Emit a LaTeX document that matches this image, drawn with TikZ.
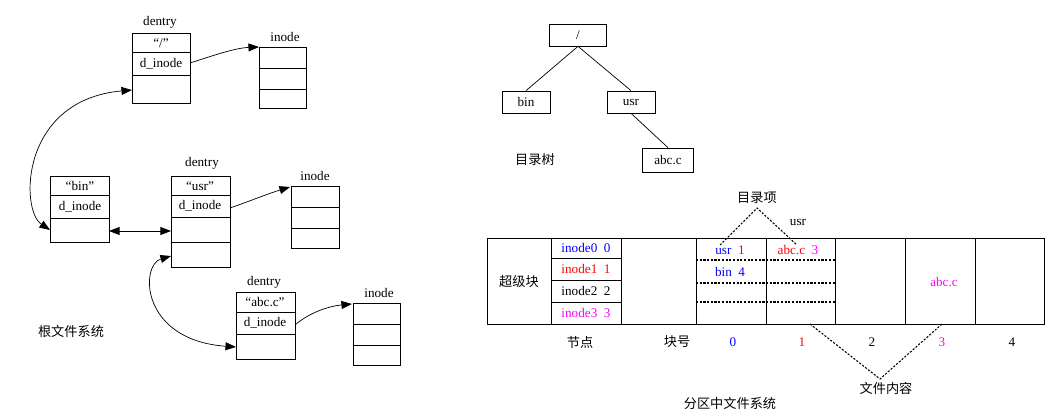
\documentclass[tikz,border=0pt]{standalone}
\usepackage{fontspec}
\setmainfont{Liberation Serif}
\newfontfamily\cjk{Noto Sans CJK SC}
\usetikzlibrary{arrows.meta}
\definecolor{mag}{RGB}{255,0,255}
\begin{document}
\begin{tikzpicture}[x=0.02cm,y=-0.02cm,font=\fontsize{7.5}{9}\selectfont,
  lbl/.style={inner sep=0pt,anchor=center},
  ptr/.style={-{Triangle[length=6pt,width=4.5pt]},thin},
  dptr/.style={{Triangle[length=6pt,width=4.5pt]}-{Triangle[length=6pt,width=4.5pt]},thin},
  dot/.style={dash pattern=on 1.2pt off 0.9pt,semithick}]
\useasboundingbox (0,0) rectangle (1060,419);
\newcommand\dbox[6]{%
  \draw[thin] (#2,#3) rectangle (#4,#5);
  \foreach \r in {#6} \draw[thin] (#2,\r) -- (#4,\r);
  \coordinate (#1) at (#2,#3);}
\dbox{d1}{132}{33}{190}{103}{52,75}
\node[lbl] (d1n) at (161,43) {“/”};
\node[lbl] (d1i) at (161,64) {d\_inode};
\node[lbl] (d1l) at (160,22) {dentry};
\dbox{i1}{259}{47}{306}{108}{68,89}
\node[lbl] (i1l) at (285,37) {inode};
\dbox{b}{50}{176}{109}{242}{195,218}
\node[lbl] (bn) at (80,186) {“bin”};
\node[lbl] (bi) at (80,207) {d\_inode};
\dbox{u}{171}{176}{230}{267}{195,217,242}
\node[lbl] (un) at (200,186) {“usr”};
\node[lbl] (ui) at (200,206) {d\_inode};
\node[lbl] (ul) at (202,163) {dentry};
\dbox{i2}{291}{186}{339}{248}{207,228}
\node[lbl] (i2l) at (315,176) {inode};
\dbox{a}{236}{292}{295}{359}{312,334}
\node[lbl] (an) at (265,302) {“abc.c”};
\node[lbl] (ai) at (265,323) {d\_inode};
\node[lbl] (al) at (264,282) {dentry};
\dbox{i3}{353}{303}{400}{365}{324,345}
\node[lbl] (i3l) at (379,293) {inode};
\node[lbl,font=\cjk\fontsize{7.5}{9}\selectfont] (rfs) at (71,331) {根文件系统};
% pointers
\coordinate (p1s) at (190,63); \coordinate (p1e) at (259,47);
\draw[ptr] (p1s) .. controls (215,55) and (235,48) .. (p1e);
\coordinate (p2s) at (230,208); \coordinate (p2e) at (290,187);
\draw[ptr] (p2s) .. controls (250,201) and (270,193) .. (p2e);
\coordinate (p3s) at (295,325); \coordinate (p3e) at (352,304);
\draw[ptr] (p3s) .. controls (310,312) and (330,306) .. (p3e);
\coordinate (c1s) at (50,230); \coordinate (c1e) at (132,90);
\draw[dptr] (c1s) .. controls (20,210) and (20,100) .. (c1e);
\coordinate (c2s) at (109,231); \coordinate (c2e) at (171,231);
\draw[dptr] (c2s) -- (c2e);
\coordinate (c3s) at (171,256); \coordinate (c3e) at (236,347);
\draw[dptr] (c3s) .. controls (140,265) and (140,340) .. (c3e);
% tree
\node[draw,thin,minimum width=57*0.02cm,minimum height=22*0.02cm] (troot) at (578,35) {/};
\node[draw,thin,minimum width=48*0.02cm,minimum height=22*0.02cm] (tbin) at (526,102) {bin};
\node[draw,thin,minimum width=48*0.02cm,minimum height=22*0.02cm] (tusr) at (631,102) {usr};
\node[draw,thin,minimum width=51*0.02cm,minimum height=24*0.02cm] (tabc) at (668,160) {abc.c};
\draw[thin] (troot.south) -- (tbin.north);
\draw[thin] (troot.south) -- (tusr.north);
\draw[thin] (tusr.south) -- (tabc.north);
\node[lbl,font=\cjk\fontsize{7.5}{9}\selectfont] (tl) at (535,160) {目录树};
% partition table
\draw[thin] (487,238) rectangle (1044,324);
\foreach \x in {551,621,696,766,835,905,975} \draw[thin] (\x,238) -- (\x,324);
\foreach \y in {258,280,302} \draw[thin] (551,\y) -- (621,\y);
\foreach \y in {260,283,302} \draw[dot] (696,\y) -- (835,\y);
\node[lbl,font=\cjk\fontsize{7.5}{9}\selectfont] (sb) at (519,281) {超级块};
\node[lbl,text=blue] (n0) at (586,248) {inode0\enspace 0};
\node[lbl,text=red] (n1) at (586,269) {inode1\enspace 1};
\node[lbl] (n2) at (586,291) {inode2\enspace 2};
\node[lbl,text=mag] (n3) at (586,313) {inode3\enspace 3};
\node[lbl] (e1) at (730,250) {\textcolor{blue}{usr}\enspace\textcolor{red}{1}};
\node[lbl] (e2) at (798,250) {\textcolor{red}{abc.c}\enspace\textcolor{mag}{3}};
\node[lbl] (e3) at (730,272) {\textcolor{blue}{bin\enspace 4}};
\node[lbl,text=mag] (e4) at (944,282) {abc.c};
\node[lbl,font=\cjk\fontsize{7.5}{9}\selectfont] (jd) at (580,342) {节点};
\node[lbl,font=\cjk\fontsize{7.5}{9}\selectfont] (kh) at (677,342) {块号};
\node[lbl,text=blue] (k0) at (733,342) {0};
\node[lbl,text=red] (k1) at (802,342) {1};
\node[lbl] (k2) at (872,342) {2};
\node[lbl,text=mag] (k3) at (942,342) {3};
\node[lbl] (k4) at (1012,342) {4};
\node[lbl,font=\cjk\fontsize{7.5}{9}\selectfont] (mlx) at (757,198) {目录项};
\node[lbl] (usrl) at (798,222) {usr};
\node[lbl,font=\cjk\fontsize{7.5}{9}\selectfont] (wjnr) at (886,388) {文件内容};
\node[lbl,font=\cjk\fontsize{7.5}{9}\selectfont] (fq) at (730,403) {分区中文件系统};
\coordinate (m0) at (757,208); \coordinate (m1) at (720,245); \coordinate (m2) at (797,245);
\draw[dot] (m1) -- (m0) -- (m2);
\coordinate (f0) at (880,379); \coordinate (f1) at (810,324); \coordinate (f2) at (942,324);
\draw[dot] (f1) -- (f0) -- (f2);
\end{tikzpicture}
\end{document}
